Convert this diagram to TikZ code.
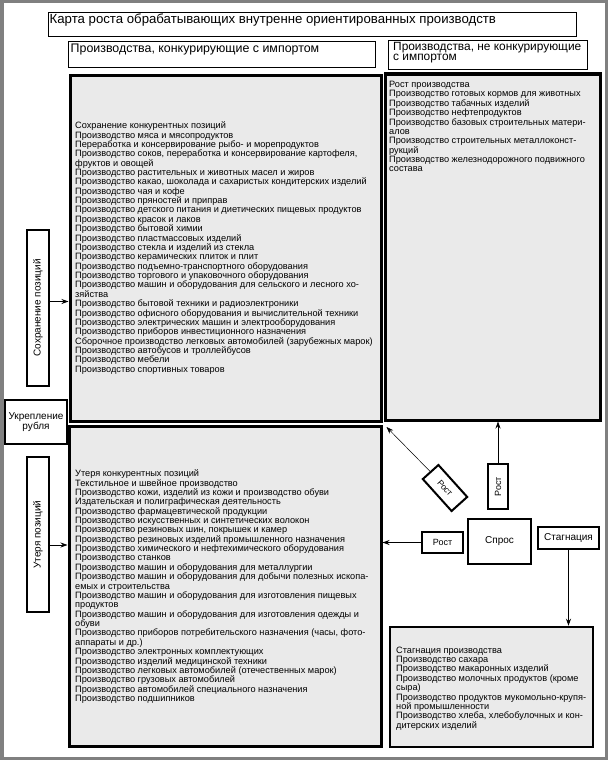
\documentclass[tikz,border=0pt]{standalone}
\usepackage{fontspec}
\setmainfont{Liberation Sans}
\usetikzlibrary{arrows.meta,calc}
\definecolor{boxgray}{RGB}{234,234,234}
\definecolor{framegray}{RGB}{128,128,128}
\begin{document}
\begin{tikzpicture}[x=1pt,y=-1pt,
  thinbox/.style={draw=black, line width=0.9pt, fill=white, inner sep=0pt},
  bigbox/.style={draw=black, line width=3pt, fill=boxgray, inner sep=0pt},
  smallbox/.style={draw=black, line width=2pt, fill=white, inner sep=0pt, align=center, font=\fontsize{10}{9}\selectfont},
  listtext/.style={inner sep=0pt, align=left, anchor=north west, font=\fontsize{9.2}{9.37}\selectfont},
  headtext/.style={inner sep=0pt, align=left, anchor=north west, font=\fontsize{12.4}{9}\selectfont},
  arr/.style={-{Stealth[length=7pt,width=5pt]}, line width=0.8pt},
  thinarr/.style={-{Stealth[length=7pt,width=5pt]}, line width=0.5pt}
]
\useasboundingbox (0,0) rectangle (608,760);
\fill[white] (0,0) rectangle (608,760);
\draw[line width=3.5pt, draw=framegray] (1.75,1.75) rectangle (606.25,758.25);

% title and headers
\node[thinbox, minimum width=528pt, minimum height=24pt] (title) at (312,24) {};
\node[headtext, font=\fontsize{13.2}{10}\selectfont] (titletxt) at (49.5,13.8) {Карта роста обрабатывающих внутренне ориентированных производств};
\node[thinbox, minimum width=307pt, minimum height=26pt] (hl) at (221.5,54) {};
\node[headtext] (hltxt) at (70.5,43.8) {Производства, конкурирующие с импортом};
\node[thinbox, minimum width=199pt, minimum height=29pt] (hr) at (487.5,54.5) {};
\node[headtext, font=\fontsize{11.9}{8.8}\selectfont] (hrtxt) at (393,42) {Производства, не конкурирующие\\с импортом};

% big boxes
\node[bigbox, minimum width=311pt, minimum height=346pt] (lt) at (225.5,248) {};
\node[bigbox, minimum width=215pt, minimum height=346pt] (rt) at (492.5,247) {};
\node[bigbox, minimum width=312pt, minimum height=320pt] (lb) at (225,586) {};
\node[bigbox, minimum width=203pt, minimum height=120pt, line width=2.5pt] (sb) at (491.5,687) {};

\node[listtext] (lttxt) at (75,121.6) {Сохранение конкурентных позиций\\
Производство мяса и мясопродуктов\\
Переработка и консервирование рыбо- и морепродуктов\\
Производство соков, переработка и консервирование картофеля,\\
фруктов и овощей\\
Производство растительных и животных масел и жиров\\
Производство какао, шоколада и сахаристых кондитерских изделий\\
Производство чая и кофе\\
Производство пряностей и приправ\\
Производство детского питания и диетических пищевых продуктов\\
Производство красок и лаков\\
Производство бытовой химии\\
Производство пластмассовых изделий\\
Производство стекла и изделий из стекла\\
Производство керамических плиток и плит\\
Производство подъемно-транспортного оборудования\\
Производство торгового и упаковочного оборудования\\
Производство машин и оборудования для сельского и лесного хо-\\
зяйства\\
Производство бытовой техники и радиоэлектроники\\
Производство офисного оборудования и вычислительной техники\\
Производство электрических машин и электрооборудования\\
Производство приборов инвестиционного назначения\\
Сборочное производство легковых автомобилей (зарубежных марок)\\
Производство автобусов и троллейбусов\\
Производство мебели\\
Производство спортивных товаров};

\node[listtext] (rttxt) at (389,81) {Рост производства\\
Производство готовых кормов для животных\\
Производство табачных изделий\\
Производство нефтепродуктов\\
Производство базовых строительных матери-\\
алов\\
Производство строительных металлоконст-\\
рукций\\
Производство железнодорожного подвижного\\
состава};

\node[listtext] (lbtxt) at (75,469.6) {Утеря конкурентных позиций\\
Текстильное и швейное производство\\
Производство кожи, изделий из кожи и производство обуви\\
Издательская и полиграфическая деятельность\\
Производство фармацевтической продукции\\
Производство искусственных и синтетических волокон\\
Производство резиновых шин, покрышек и камер\\
Производство резиновых изделий промышленного назначения\\
Производство химического и нефтехимического оборудования\\
Производство станков\\
Производство машин и оборудования для металлургии\\
Производство машин и оборудования для добычи полезных ископа-\\
емых и строительства\\
Производство машин и оборудования для изготовления пищевых\\
продуктов\\
Производство машин и оборудования для изготовления одежды и\\
обуви\\
Производство приборов потребительского назначения (часы, фото-\\
аппараты и др.)\\
Производство электронных комплектующих\\
Производство изделий медицинской техники\\
Производство легковых автомобилей (отечественных марок)\\
Производство грузовых автомобилей\\
Производство автомобилей специального назначения\\
Производство подшипников};

\node[listtext] (sbtxt) at (396,646.6) {Стагнация производства\\
Производство сахара\\
Производство макаронных изделий\\
Производство молочных продуктов (кроме\\
сыра)\\
Производство продуктов мукомольно-крупя-\\
ной промышленности\\
Производство хлеба, хлебобулочных и кон-\\
дитерских изделий};

% left small boxes
\node[smallbox, rotate=90, minimum width=156pt, minimum height=22pt] (sp) at (38,308) {Сохранение позиций};
\node[smallbox, minimum width=62pt, minimum height=44pt] (ur) at (36,422) {Укрепление\\рубля};
\node[smallbox, rotate=90, minimum width=155pt, minimum height=22pt] (ut) at (38,534.5) {Утеря позиций};

% right small boxes
\node[smallbox, rotate=90, minimum width=45pt, minimum height=20pt, font=\fontsize{9}{9}\selectfont] (rv) at (498,486.5) {Рост};
\node[smallbox, minimum width=63pt, minimum height=45pt] (dm) at (499.5,541.5) {Спрос};
\node[smallbox, minimum width=41pt, minimum height=21pt, font=\fontsize{9}{9}\selectfont] (rh) at (442.5,542.5) {Рост};
\node[smallbox, minimum width=61pt, minimum height=22pt] (stg) at (568.5,538) {Стагнация};
\node[smallbox, rotate=-48, minimum width=43pt, minimum height=21pt, font=\fontsize{8.5}{9}\selectfont] (rr) at (445,488) {Рост};

% connectors
\coordinate (sa) at ($(sp.south)+(0,-6.5)$);
\draw[arr] (sa) -- (sa -| lt.west);
\coordinate (ua) at ($(ut.south)+(0,10.5)$);
\draw[arr] (ua) -- (ua -| lb.west);
\draw[arr] (rv.east) -- (rv.east |- rt.south);
\draw[arr] (rh.west) -- (rh.west -| lb.east);
\draw[arr] (stg.south) -- (stg.south |- sb.north);
\coordinate (ca) at (386.5,427);
\draw[thinarr] (rr.west) -- (ca);
\end{tikzpicture}
\end{document}
